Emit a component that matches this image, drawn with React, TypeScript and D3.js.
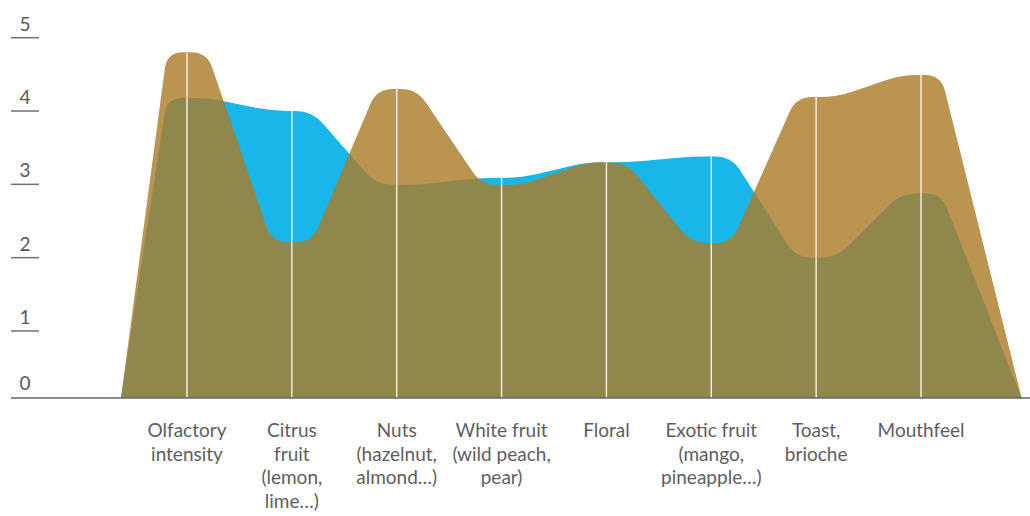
import React, { useEffect, useRef } from "react";
import * as d3 from "d3";

const categories = [
  "Olfactory\nintensity",
  "Citrus\nfruit\n(lemon,\nlime…)",
  "Nuts\n(hazelnut,\nalmond…)",
  "White fruit\n(wild peach,\npear)",
  "Floral",
  "Exotic fruit\n(mango,\npineapple…)",
  "Toast,\nbrioche",
  "Mouthfeel",
];
const blueValues = [4.18, 4.0, 2.99, 3.09, 3.3, 3.38, 2.0, 2.88];
const goldValues = [4.8, 2.21, 4.3, 2.99, 3.3, 2.2, 4.19, 4.49];
const yTicks = [1, 2, 3, 4, 5];

const width = 1030;
const height = 516;
const baseY = 398;
const plateau = 20; // half width of the flat part round each category
const corner = 16;

type Pt = [number, number];

// polyline with rounded inner corners, closed along the baseline
function roundedArea(pts: Pt[], r: number): string {
  const p = d3.path();
  p.moveTo(pts[0][0], pts[0][1]);
  for (let i = 1; i < pts.length - 1; i++) {
    const [x0, y0] = pts[i - 1];
    const [x1, y1] = pts[i];
    const [x2, y2] = pts[i + 1];
    const l1 = Math.hypot(x1 - x0, y1 - y0);
    const l2 = Math.hypot(x2 - x1, y2 - y1);
    const d1 = Math.min(r, l1 / 2);
    const d2 = Math.min(r, l2 / 2);
    p.lineTo(x1 - ((x1 - x0) / l1) * d1, y1 - ((y1 - y0) / l1) * d1);
    p.quadraticCurveTo(x1, y1, x1 + ((x2 - x1) / l2) * d2, y1 + ((y2 - y1) / l2) * d2);
  }
  const last = pts[pts.length - 1];
  p.lineTo(last[0], last[1]);
  p.closePath();
  return p.toString();
}

export default function App() {
  const svgRef = useRef<SVGSVGElement>(null);

  useEffect(() => {
    const svg = d3.select(svgRef.current);
    svg.selectAll("*").remove();

    const x = d3.scaleLinear().domain([0, categories.length - 1]).range([187, 921]);
    const y = d3.scaleLinear().domain([0, 5]).range([404.3, 37.7]);
    const startIdx = -0.63;
    const endIdx = categories.length - 1 + 0.96;

    const points = (vals: number[]): Pt[] => {
      const pts: Pt[] = [[x(startIdx), baseY]];
      vals.forEach((v, i) => {
        pts.push([x(i) - plateau, y(v)]);
        pts.push([x(i) + plateau, y(v)]);
      });
      pts.push([x(endIdx), baseY]);
      return pts;
    };

    svg.append("path")
      .attr("d", roundedArea(points(blueValues), corner))
      .attr("fill", "#19b6e9");

    svg.append("path")
      .attr("d", roundedArea(points(goldValues), corner))
      .attr("fill", "#ab7c27")
      .attr("fill-opacity", 0.81);

    // white guide lines
    svg.selectAll("line.guide")
      .data(categories)
      .enter()
      .append("line")
      .attr("class", "guide")
      .attr("x1", (d, i) => x(i))
      .attr("x2", (d, i) => x(i))
      .attr("y1", baseY)
      .attr("y2", (d, i) => y(Math.max(blueValues[i], goldValues[i])))
      .attr("stroke", "#f6f1e4")
      .attr("stroke-width", 1.4);

    // y axis
    const ticks = svg.append("g");
    ticks.selectAll("line")
      .data(yTicks)
      .enter()
      .append("line")
      .attr("x1", 11)
      .attr("x2", 39)
      .attr("y1", d => y(d))
      .attr("y2", d => y(d))
      .attr("stroke", "#707070")
      .attr("stroke-width", 1.5);
    ticks.selectAll("text")
      .data(yTicks)
      .enter()
      .append("text")
      .attr("x", 25)
      .attr("y", d => y(d) - 7)
      .attr("text-anchor", "middle")
      .attr("fill", "#595959")
      .style("font-family", "Lato, sans-serif")
      .style("font-size", "19px")
      .text(d => d);

    svg.append("text")
      .attr("x", 25)
      .attr("y", baseY - 8)
      .attr("text-anchor", "middle")
      .attr("fill", "#595959")
      .style("font-family", "Lato, sans-serif")
      .style("font-size", "19px")
      .text("0");

    svg.append("line")
      .attr("x1", 11)
      .attr("x2", width)
      .attr("y1", baseY)
      .attr("y2", baseY)
      .attr("stroke", "#666")
      .attr("stroke-width", 1.5);

    // category labels
    const labels = svg.selectAll("text.cat")
      .data(categories)
      .enter()
      .append("text")
      .attr("class", "cat")
      .attr("text-anchor", "middle")
      .attr("fill", "#5e5e5e")
      .style("font-family", "Lato, sans-serif")
      .style("font-size", "19px");

    labels.each(function (d, i) {
      const t = d3.select(this);
      d.split("\n").forEach((line, j) => {
        t.append("tspan")
          .attr("x", x(i))
          .attr("y", 437 + j * 23.7)
          .text(line);
      });
    });
  }, []);

  return (
    <svg
      ref={svgRef}
      width={width}
      height={height}
      style={{ position: "absolute", left: 0, top: 0, background: "#fff" }}
    />
  );
}
